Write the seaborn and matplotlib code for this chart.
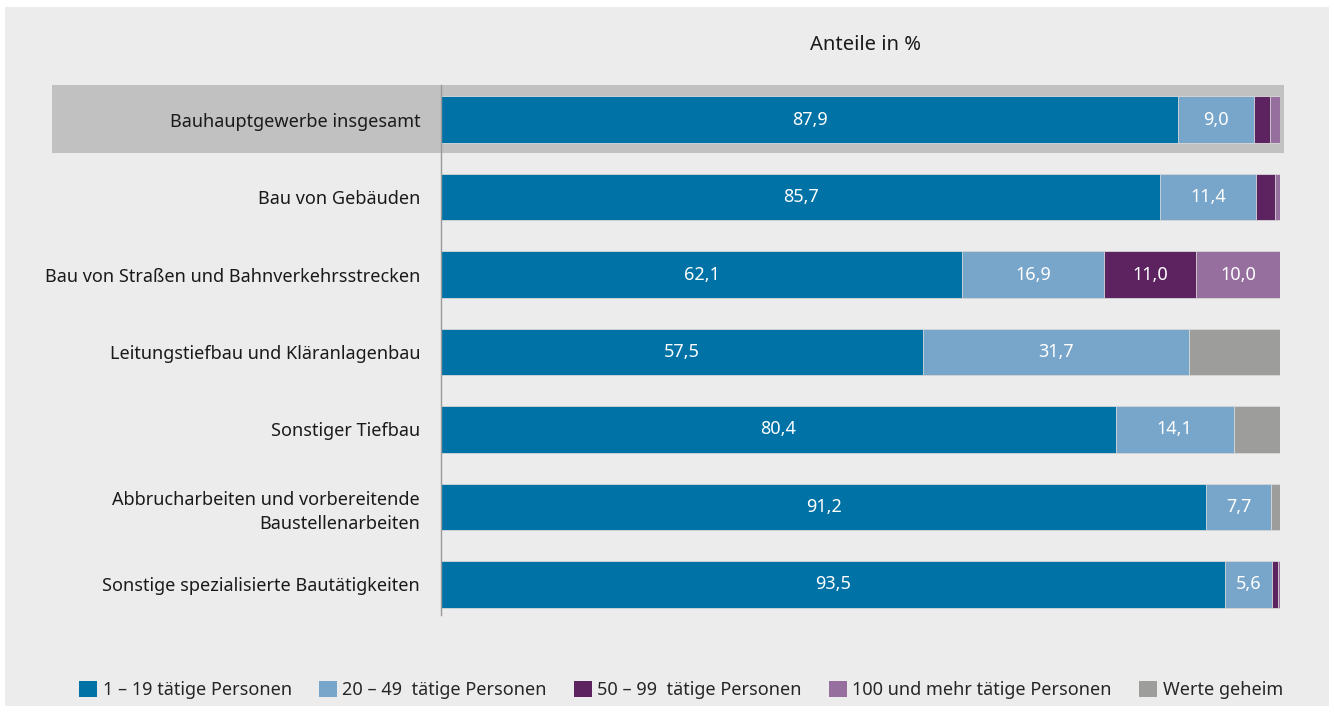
import numpy as np
import pandas as pd
import matplotlib
matplotlib.use("Agg")
import matplotlib.pyplot as plt
import seaborn as sns
from matplotlib.patches import Rectangle, Patch

# categories (top to bottom)
categories = [
    "Bauhauptgewerbe insgesamt",
    "Bau von Gebäuden",
    "Bau von Straßen und Bahnverkehrsstrecken",
    "Leitungstiefbau und Kläranlagenbau",
    "Sonstiger Tiefbau",
    "Abbrucharbeiten und vorbereitende\nBaustellenarbeiten",
    "Sonstige spezialisierte Bautätigkeiten",
]

# shares in %
s_1_19 = [87.9, 85.7, 62.1, 57.5, 80.4, 91.2, 93.5]
s_20_49 = [9.0, 11.4, 16.9, 31.7, 14.1, 7.7, 5.6]
s_50_99 = [1.9, 2.3, 11.0, 0.0, 0.0, 0.0, 0.7]
s_100 = [1.2, 0.6, 10.0, 0.0, 0.0, 0.0, 0.2]
s_geheim = [0.0, 0.0, 0.0, 10.8, 5.5, 1.1, 0.0]

series_names = ["1 – 19 tätige Personen", "20 – 49  tätige Personen",
                "50 – 99  tätige Personen", "100 und mehr tätige Personen",
                "Werte geheim"]
colors = ["#0072a6", "#78a5ca", "#5c2360", "#966f9e", "#9d9d9c"]
series = [s_1_19, s_20_49, s_50_99, s_100, s_geheim]
labelled = [True, True, True, True, False]

sns.set_style("white")
plt.rcParams["font.family"] = ["Noto Sans", "DejaVu Sans"]

fig = plt.figure(figsize=(13.34, 7.13), dpi=100)
fig.patch.set_facecolor("white")
W, H = 1334, 713
# gray background panel
fig.patches.append(Rectangle((5 / W, 7 / H), 1 - 10 / W, 1 - 14 / H,
                             transform=fig.transFigure, facecolor="#ececec",
                             edgecolor="none", zorder=-2))
# highlight band for the total row
fig.patches.append(Rectangle((52 / W, 1 - 153 / H), (1284 - 52) / W, 68 / H,
                             transform=fig.transFigure, facecolor="#c1c1c1",
                             edgecolor="none", zorder=-1))

ax = fig.add_axes([441 / W, 1 - 623 / H, (1280 - 441) / W, 542 / H])
ax.set_facecolor("none")
ax.set_zorder(2)

df = pd.DataFrame({"cat": categories})
cum = np.zeros(len(categories))
cums = []
for s in series:
    cum = cum + np.array(s)
    cums.append(cum.copy())

# draw cumulative bars from longest to shortest so they stack
for i in range(len(series) - 1, -1, -1):
    df["val"] = cums[i]
    sns.barplot(data=df, x="val", y="cat", orient="h", color=colors[i],
                width=0.6, saturation=1, edgecolor="#d9d9d9", linewidth=0.6,
                ax=ax)

# value labels
for i, s in enumerate(series):
    if not labelled[i]:
        continue
    left = cums[i] - np.array(s)
    for j, v in enumerate(s):
        if v >= 5:
            ax.text(left[j] + v / 2, j, f"{v:.1f}".replace(".", ","),
                    ha="center", va="center", color="white", fontsize=13)

ax.set_xlim(0, 100)
ax.set_ylim(6.5, -0.5)
ax.set_xlabel("")
ax.set_ylabel("")
ax.set_xticks([])
ax.tick_params(axis="y", length=0, pad=15, labelsize=13, labelcolor="#1a1a1a")
for lab in ax.get_yticklabels():
    lab.set_linespacing(1.45)
for sp in ["top", "right", "bottom"]:
    ax.spines[sp].set_visible(False)
ax.spines["left"].set_color("#9a9a9a")
ax.spines["left"].set_linewidth(1)
ax.spines["left"].set_bounds(-0.45, 6.4)

fig.text(866 / W, 1 - 45 / H, "Anteile in %", ha="center", va="center",
         fontsize=14.5, color="#1a1a1a")

handles = [Patch(facecolor=c, edgecolor="none", label=n)
           for c, n in zip(colors, series_names)]
fig.legend(handles=handles, loc="center", bbox_to_anchor=(681 / W, 1 - 690 / H),
           ncol=5, frameon=False, fontsize=13, handlelength=1.0,
           handleheight=1.0, handletextpad=0.3, columnspacing=1.5)

fig.savefig("out.png", dpi=100)
